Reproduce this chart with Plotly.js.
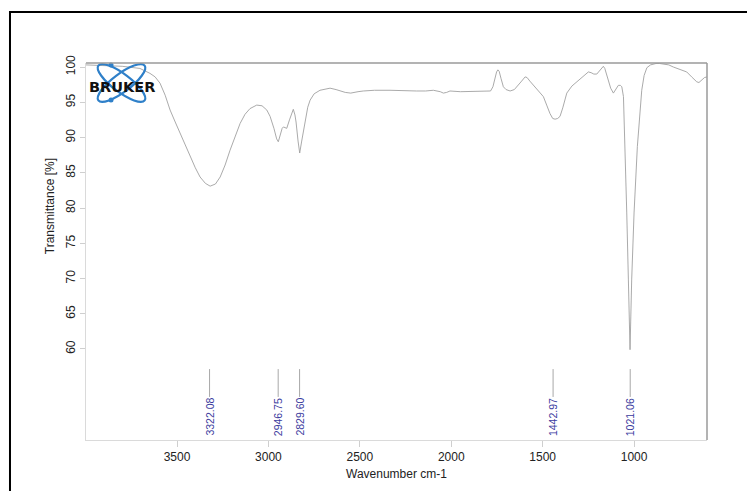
<!DOCTYPE html>
<html>
<head>
<meta charset="utf-8">
<script src="https://cdn.plot.ly/plotly-3.0.1.min.js"></script>
<style>html,body{margin:0;padding:0;background:#fff;}#chart{width:747px;height:491px;}</style>
</head>
<body>
<div id="chart"></div>
<script>
// Wavenumber (cm-1) and transmittance (%)
const wavenumber = [3998,3900,3800,3703,3648,3620,3593,3565,3538,3510,3483,3456,3429,3400,3374,3345,3319,3290,3264,3237,3210,3182,3155,3128,3101,3064,3035,3009,2991,2970,2955,2946,2935,2925,2918,2900,2885,2870,2864,2855,2849,2838,2829,2818,2810,2800,2785,2772,2750,2718,2690,2663,2630,2608,2580,2550,2536,2510,2481,2420,2335,2250,2189,2140,2098,2060,2043,2025,2007,1950,1900,1850,1800,1785,1772,1762,1752,1745,1738,1728,1715,1700,1678,1655,1633,1615,1596,1585,1570,1551,1520,1496,1478,1460,1445,1432,1418,1405,1390,1368,1340,1313,1280,1260,1250,1235,1220,1204,1185,1168,1160,1150,1141,1128,1113,1100,1086,1075,1067,1058,1050,1040,1031,1022,1013,1000,982,970,958,945,930,910,880,860,840,810,785,750,712,685,657,645,630,615,601];
const transmittance = [100.3,100.2,100.1,99.8,99.1,98.6,97.7,96.0,93.9,92.2,90.6,88.9,87.3,85.7,84.4,83.5,83.1,83.4,84.4,86.1,88.2,90.2,92.0,93.3,94.1,94.6,94.5,93.9,93.0,91.3,89.8,89.4,90.3,91.3,91.5,91.3,92.5,93.8,94.0,93.2,92.2,89.5,87.8,89.5,90.8,92.5,94.3,95.3,96.2,96.7,96.9,97.0,96.8,96.6,96.4,96.3,96.4,96.5,96.6,96.7,96.7,96.6,96.6,96.6,96.7,96.5,96.3,96.4,96.6,96.5,96.5,96.5,96.5,96.6,97.2,98.3,99.3,99.6,99.4,98.4,97.2,96.8,96.6,96.8,97.4,98.0,98.6,98.5,98.0,97.4,96.5,95.8,94.6,93.4,92.7,92.6,92.7,93.0,94.2,96.3,97.3,97.9,98.6,99.1,99.3,99.2,99.0,99.0,99.5,100.1,99.8,99.0,98.2,97.0,96.3,96.9,97.4,97.4,97.2,95.8,89.5,79.3,69.8,59.9,69.8,79.3,88.7,93.5,96.7,98.8,99.9,100.3,100.5,100.5,100.4,100.3,100.0,99.7,99.3,98.6,97.9,97.8,98.2,98.5,98.6];
// Peak picks
const peaks = [3322.08, 2946.75, 2829.60, 1442.97, 1021.06];
const xTicks = [3500, 3000, 2500, 2000, 1500, 1000];
const yTicks = [60, 65, 70, 75, 80, 85, 90, 95, 100];

const font = 'Liberation Sans, Arial, sans-serif';
const trace = {
  x: wavenumber, y: transmittance, type: 'scatter', mode: 'lines',
  line: {color: '#a0a0a0', width: 0.9}, hoverinfo: 'skip', showlegend: false
};

const shapes = [];
const annotations = [];
peaks.forEach(p => {
  shapes.push({type: 'line', xref: 'x', yref: 'y', x0: p, x1: p, y0: 53.2, y1: 57.15,
    line: {color: '#a8a8a8', width: 1}});
  annotations.push({xref: 'x', yref: 'y', x: p, y: 50.35, text: p.toFixed(2), showarrow: false,
    textangle: -90, xanchor: 'center', yanchor: 'middle',
    font: {family: font, size: 10.5, color: '#3b3b9e'}});
});
// plot frame top/right
shapes.push({type: 'line', xref: 'paper', yref: 'paper', x0: 0, x1: 1, y0: 1, y1: 1, line: {color: '#9a9a9a', width: 1.5}});
shapes.push({type: 'line', xref: 'paper', yref: 'paper', x0: 1, x1: 1, y0: 0, y1: 1, line: {color: '#9a9a9a', width: 1.5}});
// outer black frame
shapes.push({type: 'rect', xref: 'paper', yref: 'paper', x0: -0.1224, x1: 1.3, y0: -0.4, y1: 1.1353,
  line: {color: '#000', width: 2}, fillcolor: 'rgba(0,0,0,0)'});

// y-axis title
annotations.push({xref: 'paper', yref: 'paper', x: -0.058, y: 0.62, text: 'Transmittance [%]',
  showarrow: false, textangle: -90, xanchor: 'center', yanchor: 'middle',
  font: {family: font, size: 12, color: '#222'}});
// logo text
annotations.push({xref: 'paper', yref: 'paper', x: 0.0580, y: 0.9363, text: '<b>BRUKER</b>',
  showarrow: false, xanchor: 'center', yanchor: 'middle',
  font: {family: 'DejaVu Sans, sans-serif', size: 14.5, color: '#111'}});

const logoSvg = "<svg xmlns='http://www.w3.org/2000/svg' width='64' height='44' viewBox='0 0 64 44'>" +
  "<g fill='none' stroke='#2f80c9' stroke-width='2.2'>" +
  "<ellipse cx='32' cy='22' rx='29' ry='9' transform='rotate(37 32 22)'/>" +
  "<ellipse cx='32' cy='22' rx='29' ry='9' transform='rotate(-37 32 22)'/></g>" +
  "<circle cx='21.5' cy='4' r='2.5' fill='#2f80c9'/><circle cx='21.5' cy='39' r='2.5' fill='#2f80c9'/></svg>";

const layout = {
  width: 747, height: 491,
  margin: {l: 86, r: 40, t: 63, b: 51, pad: 0},
  paper_bgcolor: '#fff', plot_bgcolor: '#fff',
  showlegend: false,
  xaxis: {
    range: [3998, 601], tickvals: xTicks, ticktext: xTicks.map(String),
    showgrid: false, zeroline: false, showline: true, linecolor: '#dadada', linewidth: 1,
    ticks: 'outside', ticklen: 6, tickcolor: '#cfcfcf',
    tickfont: {family: font, size: 12, color: '#222'},
    title: {text: 'Wavenumber cm-1', font: {family: font, size: 12, color: '#222'}, standoff: 6}
  },
  yaxis: {
    range: [47.09, 100.57], tickvals: yTicks, ticktext: yTicks.map(String),
    showgrid: false, zeroline: false, showline: true, linecolor: '#dadada', linewidth: 1,
    ticks: 'outside', ticklen: 5, tickcolor: '#cfcfcf', tickangle: -90,
    tickfont: {family: font, size: 12, color: '#222'}
  },
  shapes: shapes,
  annotations: annotations,
  images: [{
    source: 'data:image/svg+xml;utf8,' + encodeURIComponent(logoSvg),
    xref: 'paper', yref: 'paper', x: (89.5 - 86) / 621, y: (440 - 61) / 377,
    sizex: 64 / 621, sizey: 44 / 377, sizing: 'stretch', xanchor: 'left', yanchor: 'top', layer: 'above'
  }]
};

Plotly.newPlot('chart', [trace], layout, {staticPlot: true, displayModeBar: false});
</script>
</body>
</html>
